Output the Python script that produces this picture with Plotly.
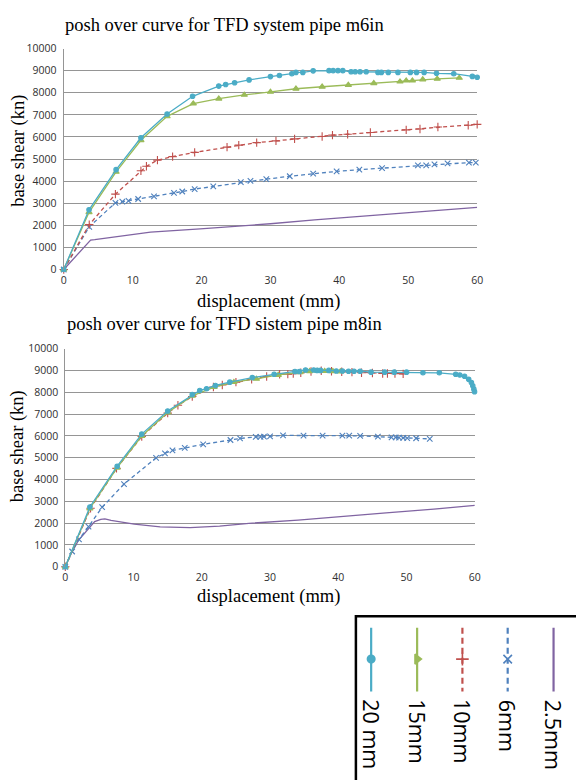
import plotly.graph_objects as go

# ---------------- data: top chart (pipe m6in) ----------------
d20_a = [0, 3.67, 7.6, 11.2, 15.0, 18.7, 22.5, 23.5, 24.8, 26.9, 30.0, 31.3, 33.1, 33.7, 34.7, 36.2, 38.5, 39.1, 39.8, 40.5,
         41.7, 42.3, 43.0, 43.9, 45.6, 46.1, 47.1, 48.5, 50.3, 51.2, 52.3, 54.1, 56.6, 59.3, 60.0]
v20_a = [0, 2700, 4520, 5960, 7040, 7840, 8300, 8370, 8450, 8580, 8730, 8780, 8860, 8920, 8920, 8990, 9000, 9000, 9000, 9000,
         8950, 8950, 8950, 8950, 8920, 8920, 8920, 8920, 8920, 8920, 8920, 8880, 8860, 8740, 8700]
d15_a = [0, 3.67, 7.6, 11.2, 15.0, 18.8, 22.5, 26.2, 30.0, 33.7, 37.5, 41.3, 45.0, 48.8, 49.7, 50.6, 52.1, 54.2, 57.4]
v15_a = [0, 2590, 4420, 5850, 6930, 7510, 7730, 7900, 8040, 8180, 8270, 8350, 8430, 8500, 8550, 8550, 8600, 8630, 8670]
d10_a = [0, 3.7, 7.5, 11.2, 12.0, 13.6, 15.8, 19.0, 23.7, 25.4, 28.0, 30.8, 33.5, 37.5, 39.0, 41.2, 44.5, 49.7, 51.7, 54.3,
         58.7, 60.0]
v10_a = [0, 2030, 3410, 4470, 4670, 4950, 5110, 5300, 5540, 5630, 5740, 5820, 5910, 6020, 6080, 6120, 6200, 6320, 6360, 6450,
         6530, 6570]
d6_a = [0, 3.7, 7.5, 8.5, 9.4, 10.8, 13.1, 16.0, 17.2, 19.0, 21.7, 25.7, 27.1, 29.4, 32.8, 36.2, 39.6, 42.9, 46.2, 51.4,
        52.6, 53.8, 55.7, 58.8, 59.8]
v6_a = [0, 1930, 3020, 3070, 3110, 3190, 3310, 3470, 3530, 3640, 3760, 3950, 4010, 4090, 4220, 4340, 4440, 4520, 4590, 4710,
        4710, 4760, 4800, 4840, 4840]
d25_a = [0, 3.9, 4.5, 12.6, 19.8, 26.9, 30.0, 36.4, 45.9, 55.4, 60.0]
v25_a = [0, 1330, 1350, 1690, 1840, 1990, 2070, 2250, 2470, 2700, 2810]

# ---------------- data: bottom chart (pipe m8in) ----------------
d20_b = [0, 3.6, 7.6, 11.2, 15.0, 18.6, 19.7, 20.7, 22.0, 24.1, 27.4, 30.6, 33.65, 34.3, 35.2, 36.4, 36.9, 37.4, 38.6, 39.7,
         40.6, 41.5, 42.3, 43.2, 44.8, 46.8, 48.2, 50.0, 52.4, 54.8, 57.2, 57.8, 58.5, 59.1, 59.5, 59.7, 59.86, 59.96]
v20_b = [0, 2740, 4610, 6080, 7140, 7890, 8080, 8160, 8310, 8460, 8670, 8820, 8950, 8950, 9020, 9020, 9000, 9000, 9000, 8970,
         8970, 8960, 8960, 8960, 8920, 8920, 8920, 8920, 8890, 8890, 8820, 8790, 8730, 8590, 8440, 8290, 8140, 8020]
d15_b = [0, 3.6, 7.6, 11.2, 15.0, 18.6, 21.8, 24.7, 28.0, 31.2, 34.4, 35.8, 37.0, 38.0, 39.2, 40.3]
v15_b = [0, 2670, 4540, 5990, 7070, 7830, 8230, 8460, 8610, 8790, 8910, 8960, 8970, 8970, 8960, 8950]
d10_b = [0, 3.7, 7.5, 11.2, 15.0, 16.5, 18.6, 21.7, 23.0, 25.0, 27.3, 29.5, 31.4, 32.6, 33.4, 34.5, 36.0, 37.5, 39.0, 40.5,
         42.0, 43.4, 45.0, 46.5, 47.2, 48.3, 49.5]
v10_b = [0, 2680, 4510, 5970, 7040, 7400, 7800, 8240, 8330, 8460, 8590, 8720, 8820, 8830, 8850, 8890, 8950, 8980, 8960, 8940,
         8920, 8890, 8880, 8860, 8860, 8850, 8840]
d6_b = [0, 1.0, 2.0, 3.4, 5.4, 8.6, 13.3, 14.6, 15.7, 17.5, 20.2, 24.2, 25.6, 27.9, 28.6, 29.1, 30.0, 31.9, 34.9, 37.7,
        40.6, 41.6, 43.2, 45.8, 47.8, 48.4, 48.9, 49.5, 50.1, 51.4, 53.4]
v6_b = [0, 700, 1260, 1840, 2730, 3790, 4990, 5200, 5330, 5450, 5610, 5810, 5880, 5950, 5950, 5960, 5980, 6020, 6010, 6010,
        6010, 6010, 6000, 5960, 5930, 5930, 5920, 5910, 5900, 5890, 5860]
d25_b = [0, 0.9, 1.9, 3.4, 4.3, 5.2, 5.8, 6.7, 8.0, 10.1, 13.9, 18.3, 22.6, 26.9, 34.1, 40.0, 47.0, 54.0, 60.0]
v25_b = [0, 630, 1200, 1720, 2070, 2170, 2190, 2130, 2060, 1950, 1830, 1790, 1860, 1990, 2140, 2300, 2470, 2640, 2810]

series_names = ["20 mm", "15mm", "10mm", "6mm", "2.5mm"]
titles = ["posh over curve for TFD system pipe m6in", "posh over curve for TFD sistem pipe m8in"]
x_title = "displacement (mm)"
y_title = "base shear (kn)"

# ---------------- styles ----------------
W, H = 576, 780
colors = ["#4BACC6", "#9BBB59", "#C0504D", "#4F81BD", "#8064A2"]
dashes = ["solid", "solid", "4px,3px", "4px,3px", "solid"]
symbols = ["circle", "triangle-up", "cross-thin", "x-thin", None]
msizes = [4.5, 5.5, 6, 5.5, 0]
legend_symbols = ["circle", "triangle-right", "cross-thin", "x-thin", None]

top_data = [(d20_a, v20_a), (d15_a, v15_a), (d10_a, v10_a), (d6_a, v6_a), (d25_a, v25_a)]
bot_data = [(d20_b, v20_b), (d15_b, v15_b), (d10_b, v10_b), (d6_b, v6_b), (d25_b, v25_b)]

fig = go.Figure()

def add_series(data, xa, ya):
    # draw in reverse so the 20 mm curve ends up on top
    for i in reversed(range(len(data))):
        xs, ys = data[i]
        if symbols[i]:
            fig.add_trace(go.Scatter(x=xs, y=ys, xaxis=xa, yaxis=ya, mode="lines+markers",
                                     line=dict(color=colors[i], width=1.3, dash=dashes[i]),
                                     marker=dict(symbol=symbols[i], size=msizes[i], color=colors[i],
                                                 line=dict(color=colors[i], width=1.1)),
                                     showlegend=False, cliponaxis=False, hoverinfo="skip"))
        else:
            fig.add_trace(go.Scatter(x=xs, y=ys, xaxis=xa, yaxis=ya, mode="lines",
                                     line=dict(color=colors[i], width=1.3, dash=dashes[i]),
                                     showlegend=False, cliponaxis=False, hoverinfo="skip"))

add_series(top_data, "x", "y")
add_series(bot_data, "x2", "y2")

tick_font = dict(family="Open Sans", size=10.5, color="#303030")
grid_col = "#959595"

def px_x(p):
    return p / W

def px_y(p):
    return 1 - p / H

common_x = dict(range=[0, 60], dtick=10, tick0=0, showgrid=False, zeroline=False, showline=False,
                ticks="", tickfont=tick_font, fixedrange=True, tickformat="d", ticklabelstandoff=3)
common_y = dict(range=[0, 10000], dtick=1000, tick0=0, showgrid=True, gridcolor=grid_col, gridwidth=1,
                zeroline=False, showline=True, linecolor=grid_col, linewidth=1, ticks="",
                tickfont=tick_font, fixedrange=True, tickformat="d", ticklabelstandoff=4)

# legend area (pixel coordinates mapped through a hidden axis pair)
LX0, LX1, LY0, LY1 = 358, 576, 620, 780

fig.update_layout(
    width=W, height=H, margin=dict(l=0, r=0, t=0, b=0),
    paper_bgcolor="white", plot_bgcolor="rgba(0,0,0,0)",
    xaxis=dict(domain=[px_x(61.7), px_x(481.7)], anchor="y", **common_x),
    yaxis=dict(domain=[px_y(267.3), px_y(42.3)], anchor="x", **common_y),
    xaxis2=dict(domain=[px_x(63.3), px_x(479.3)], anchor="y2", **common_x),
    yaxis2=dict(domain=[px_y(570), px_y(347.8)], anchor="x2", **common_y),
    xaxis3=dict(domain=[px_x(LX0), px_x(LX1)], range=[LX0, LX1], visible=False, fixedrange=True, anchor="y3"),
    yaxis3=dict(domain=[px_y(LY1), px_y(LY0)], range=[LY1, LY0], visible=False, fixedrange=True, anchor="x3"),
)

serif = "Liberation Serif"
ann = []
for t, cy in zip(titles, [18, 323]):
    ann.append(dict(text=t, x=px_x(225.5), y=px_y(cy), xref="paper", yref="paper", showarrow=False,
                    xanchor="center", yanchor="middle", font=dict(family=serif, size=18.5, color="black")))
for cy in [299.5, 600]:
    ann.append(dict(text=x_title, x=px_x(270), y=px_y(cy), xref="paper", yref="paper", showarrow=False,
                    xanchor="center", yanchor="middle", font=dict(family=serif, size=18.5, color="black")))
for cy in [146, 447]:
    ann.append(dict(text=y_title, x=px_x(15.5), y=px_y(cy), xref="paper", yref="paper", showarrow=False,
                    textangle=-90, xanchor="center", yanchor="middle",
                    font=dict(family=serif, size=18.5, color="black")))

# ---------------- rotated legend, drawn by hand ----------------
legend_x = [374, 420.7, 466.7, 512.7, 559.3]
leg_top, leg_bot, leg_mid, leg_text = 632, 697, 664, 703
for i, lx in enumerate(legend_x):
    fig.add_trace(go.Scatter(x=[lx, lx], y=[leg_top, leg_bot], xaxis="x3", yaxis="y3", mode="lines",
                             line=dict(color=colors[i], width=2.2, dash="6px,4px" if dashes[i] != "solid" else "solid"),
                             showlegend=False, hoverinfo="skip", cliponaxis=False))
    if legend_symbols[i]:
        fig.add_trace(go.Scatter(x=[lx], y=[leg_mid], xaxis="x3", yaxis="y3", mode="markers",
                                 marker=dict(symbol=legend_symbols[i], size=msizes[i] + 3, color=colors[i],
                                             line=dict(color=colors[i], width=1.6)),
                                 showlegend=False, hoverinfo="skip", cliponaxis=False))
    ann.append(dict(text=series_names[i], x=lx, y=leg_text, xref="x3", yref="y3", showarrow=False,
                    textangle=90, xanchor="center", yanchor="top",
                    font=dict(family="Open Sans", size=21.5, color="black")))

fig.update_layout(annotations=ann)
fig.add_shape(type="rect", xref="paper", yref="paper", x0=px_x(358.5), x1=px_x(590), y0=px_y(800), y1=px_y(620.5),
              line=dict(color="black", width=2.5), fillcolor="rgba(0,0,0,0)")

fig.write_html("out.html", config={"displayModeBar": False},
               post_script="document.body.style.margin='0px';document.body.style.overflow='hidden';")
